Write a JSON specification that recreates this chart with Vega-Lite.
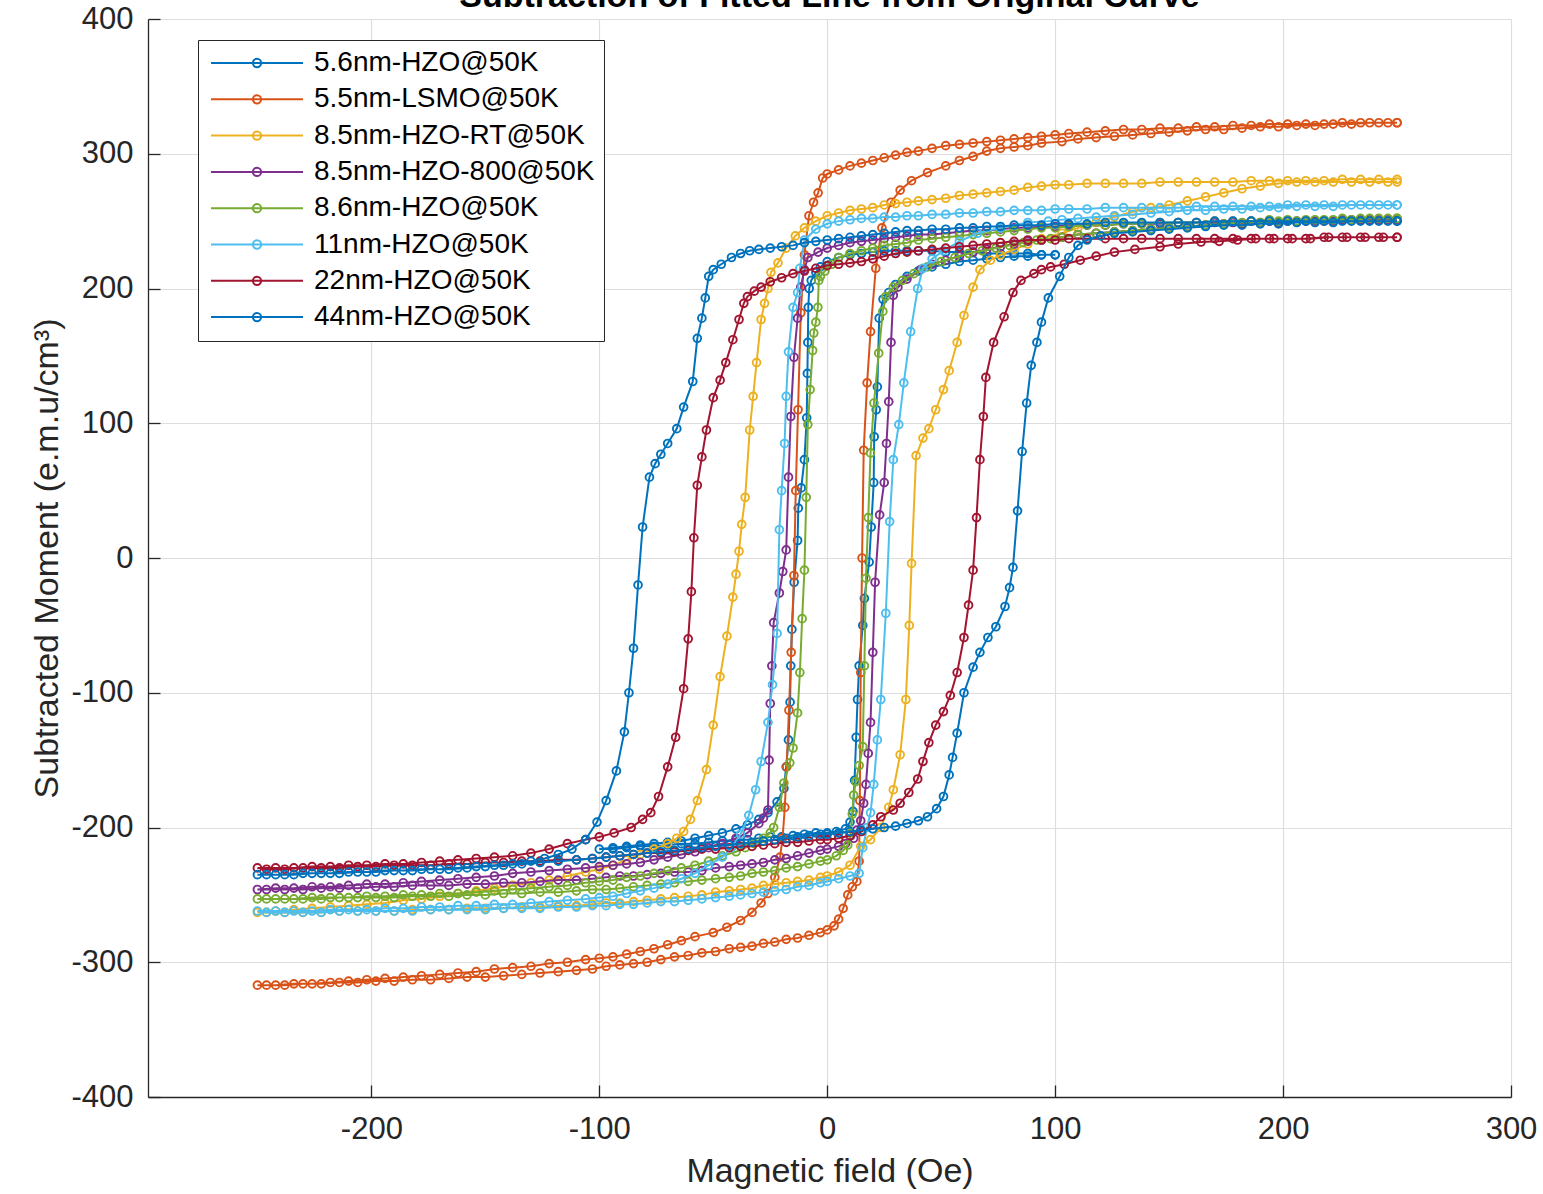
{
"$schema":"https://vega.github.io/schema/vega-lite/v6.json",
"width":1363,"height":1078,
"autosize":{"type":"none"},
"padding":{"left":148,"top":19,"right":32,"bottom":97},
"background":"white",
"title":{"text":"Subtraction of Fitted Line from Original Curve","font":"Liberation Sans","fontSize":34,"fontWeight":"bold","color":"black","anchor":"middle","frame":"group","offset":0,"dy":38,"baseline":"alphabetic"},
"config":{
"view":{"stroke":null},
"axis":{"domainColor":"#262626","domainWidth":1.3,"tickColor":"#262626","tickWidth":1.3,"tickSize":-12,"labelFont":"Liberation Sans","labelFontSize":31,"labelColor":"#262626","titleFont":"Liberation Sans","titleFontSize":34,"titleFontWeight":"normal","titleColor":"#262626","gridColor":"#dedede","gridWidth":1.2,"labelFlush":false,"labelOverlap":false},
"axisX":{"labelPadding":29,"titlePadding":10},
"axisY":{"labelPadding":27,"titlePadding":6}
},
"datasets":{
"s1":[{"x":100,"y":225},{"x":94,"y":225},{"x":88,"y":226},{"x":82,"y":226},{"x":76,"y":226},{"x":70,"y":226},{"x":64,"y":227},{"x":58,"y":227},{"x":52,"y":227},{"x":46,"y":228},{"x":40,"y":228},{"x":35,"y":228},{"x":30,"y":228},{"x":25,"y":228},{"x":20,"y":227},{"x":15,"y":226},{"x":10,"y":225},{"x":5,"y":223},{"x":0,"y":220},{"x":-3,"y":216},{"x":-5,"y":212},{"x":-7,"y":206},{"x":-7.9,"y":200},{"x":-8.3,"y":186},{"x":-8.5,"y":160},{"x":-8.7,"y":137},{"x":-9,"y":104},{"x":-10,"y":73},{"x":-11.4,"y":52},{"x":-12.7,"y":37},{"x":-13,"y":13},{"x":-14.5,"y":-18},{"x":-15.5,"y":-53},{"x":-16,"y":-80},{"x":-16.3,"y":-107},{"x":-17,"y":-135},{"x":-18,"y":-155},{"x":-19,"y":-171},{"x":-22,"y":-181},{"x":-26,"y":-189},{"x":-30,"y":-194},{"x":-35,"y":-198},{"x":-40,"y":-201},{"x":-46,"y":-204},{"x":-52,"y":-206},{"x":-58,"y":-208},{"x":-64,"y":-210},{"x":-70,"y":-211},{"x":-76,"y":-212},{"x":-82,"y":-213},{"x":-88,"y":-214},{"x":-94,"y":-215},{"x":-100,"y":-216},
{"x":-94,"y":-216},{"x":-88,"y":-215},{"x":-82,"y":-214},{"x":-76,"y":-214},{"x":-70,"y":-213},{"x":-64,"y":-212},{"x":-58,"y":-212},{"x":-52,"y":-211},{"x":-46,"y":-210},{"x":-40,"y":-209},{"x":-35,"y":-209},{"x":-30,"y":-208},{"x":-25,"y":-207},{"x":-20,"y":-207},{"x":-15,"y":-206},{"x":-10,"y":-205},{"x":-5,"y":-204},{"x":0,"y":-204},{"x":4,"y":-203},{"x":8,"y":-201},{"x":10,"y":-196},{"x":11.3,"y":-188},{"x":12,"y":-165},{"x":12.7,"y":-133},{"x":13.3,"y":-105},{"x":14,"y":-80},{"x":15.6,"y":-50},{"x":16.3,"y":-30},{"x":18.4,"y":-3},{"x":19.3,"y":23},{"x":20.4,"y":56},{"x":20.6,"y":90},{"x":21.5,"y":110},{"x":22,"y":127},{"x":22.8,"y":178},{"x":24.5,"y":192},{"x":27,"y":197},{"x":30,"y":203},{"x":35,"y":209},{"x":40,"y":213},{"x":46,"y":216},{"x":52,"y":218},{"x":58,"y":220},{"x":64,"y":221},{"x":70,"y":222},{"x":76,"y":223},{"x":82,"y":224},{"x":88,"y":224},{"x":94,"y":225},{"x":100,"y":225}],
"s2":[{"x":250,"y":323},{"x":242,"y":323},{"x":234,"y":323},{"x":226,"y":323},{"x":218,"y":322},{"x":210,"y":322},{"x":202,"y":322},{"x":194,"y":322},{"x":186,"y":321},{"x":178,"y":321},{"x":170,"y":320},{"x":162,"y":320},{"x":154,"y":319},{"x":146,"y":319},{"x":138,"y":318},{"x":130,"y":318},{"x":122,"y":317},{"x":114,"y":316},{"x":106,"y":315},{"x":100,"y":314},{"x":94,"y":313},{"x":88,"y":312},{"x":82,"y":311},{"x":76,"y":310},{"x":70,"y":309},{"x":64,"y":308},{"x":58,"y":307},{"x":52,"y":306},{"x":46,"y":304},{"x":40,"y":302},{"x":35,"y":301},{"x":30,"y":299},{"x":25,"y":297},{"x":20,"y":295},{"x":15,"y":293},{"x":10,"y":291},{"x":5,"y":288},{"x":0,"y":285},{"x":-2,"y":282},{"x":-4,"y":271},{"x":-6,"y":264},{"x":-8,"y":254},{"x":-10,"y":225},{"x":-11.6,"y":182},{"x":-12.8,"y":110},{"x":-13.8,"y":50},{"x":-14.6,"y":-13},{"x":-15.8,"y":-70},{"x":-16.8,"y":-113},{"x":-17.8,"y":-155},{"x":-18.6,"y":-185},{"x":-19.6,"y":-208},{"x":-20.7,"y":-222},{"x":-23,"y":-237},{"x":-26,"y":-249},{"x":-29,"y":-256},{"x":-33,"y":-263},{"x":-38,"y":-269},{"x":-44,"y":-274},{"x":-50,"y":-278},{"x":-58,"y":-281},{"x":-64,"y":-284},{"x":-70,"y":-287},{"x":-76,"y":-290},{"x":-82,"y":-292},{"x":-88,"y":-294},{"x":-94,"y":-296},{"x":-100,"y":-297},{"x":-106,"y":-298},{"x":-114,"y":-300},{"x":-122,"y":-301},{"x":-130,"y":-303},{"x":-138,"y":-304},{"x":-146,"y":-305},{"x":-154,"y":-307},{"x":-162,"y":-308},{"x":-170,"y":-309},{"x":-178,"y":-310},{"x":-186,"y":-311},{"x":-194,"y":-312},{"x":-202,"y":-313},{"x":-210,"y":-314},{"x":-218,"y":-315},{"x":-226,"y":-316},{"x":-234,"y":-316},{"x":-242,"y":-317},{"x":-250,"y":-317},
{"x":-246,"y":-317},{"x":-238,"y":-317},{"x":-230,"y":-316},{"x":-222,"y":-316},{"x":-214,"y":-315},{"x":-206,"y":-315},{"x":-198,"y":-314},{"x":-190,"y":-314},{"x":-182,"y":-313},{"x":-174,"y":-313},{"x":-166,"y":-312},{"x":-158,"y":-311},{"x":-150,"y":-311},{"x":-142,"y":-310},{"x":-134,"y":-309},{"x":-126,"y":-308},{"x":-118,"y":-307},{"x":-110,"y":-306},{"x":-103,"y":-305},{"x":-97,"y":-303},{"x":-91,"y":-302},{"x":-85,"y":-301},{"x":-79,"y":-300},{"x":-73,"y":-298},{"x":-67,"y":-296},{"x":-61,"y":-295},{"x":-55,"y":-293},{"x":-49,"y":-292},{"x":-43,"y":-290},{"x":-38,"y":-289},{"x":-33,"y":-288},{"x":-28,"y":-286},{"x":-23,"y":-285},{"x":-18,"y":-283},{"x":-13,"y":-282},{"x":-8,"y":-280},{"x":-3,"y":-278},{"x":0,"y":-276},{"x":3,"y":-273},{"x":5,"y":-268},{"x":7,"y":-260},{"x":9,"y":-250},{"x":11,"y":-244},{"x":13,"y":-240},{"x":14,"y":-225},{"x":14.3,"y":-180},{"x":14.7,"y":-85},{"x":15.3,"y":0},{"x":16,"y":80},{"x":17.5,"y":130},{"x":19,"y":168},{"x":21.3,"y":215},{"x":24,"y":245},{"x":28,"y":264},{"x":32,"y":273},{"x":37,"y":280},{"x":44,"y":286},{"x":52,"y":291},{"x":58,"y":295},{"x":64,"y":298},{"x":70,"y":302},{"x":76,"y":304},{"x":82,"y":305},{"x":88,"y":306},{"x":94,"y":308},{"x":103,"y":309},{"x":110,"y":311},{"x":118,"y":312},{"x":126,"y":313},{"x":134,"y":314},{"x":142,"y":315},{"x":150,"y":316},{"x":158,"y":317},{"x":166,"y":318},{"x":174,"y":318},{"x":182,"y":319},{"x":190,"y":320},{"x":198,"y":320},{"x":206,"y":321},{"x":214,"y":321},{"x":222,"y":322},{"x":230,"y":322},{"x":238,"y":323},{"x":246,"y":323},{"x":250,"y":323}],
"s3":[{"x":250,"y":281},{"x":242,"y":281},{"x":234,"y":281},{"x":226,"y":281},{"x":218,"y":280},{"x":210,"y":280},{"x":202,"y":280},{"x":194,"y":280},{"x":186,"y":280},{"x":178,"y":279},{"x":170,"y":279},{"x":162,"y":279},{"x":154,"y":279},{"x":146,"y":279},{"x":138,"y":278},{"x":130,"y":278},{"x":122,"y":278},{"x":114,"y":278},{"x":106,"y":277},{"x":100,"y":277},{"x":94,"y":276},{"x":88,"y":275},{"x":82,"y":273},{"x":76,"y":272},{"x":70,"y":271},{"x":64,"y":270},{"x":58,"y":269},{"x":52,"y":267},{"x":46,"y":266},{"x":40,"y":265},{"x":35,"y":264},{"x":30,"y":263},{"x":25,"y":262},{"x":20,"y":260},{"x":15,"y":259},{"x":10,"y":258},{"x":5,"y":256},{"x":0,"y":254},{"x":-5,"y":250},{"x":-10,"y":245},{"x":-14,"y":239},{"x":-18,"y":230},{"x":-21.6,"y":219},{"x":-24.7,"y":212},{"x":-26,"y":200},{"x":-27.5,"y":189},{"x":-29,"y":177},{"x":-31,"y":145},{"x":-32.5,"y":120},{"x":-34,"y":95},{"x":-36,"y":45},{"x":-37.5,"y":25},{"x":-38.7,"y":5},{"x":-40,"y":-12},{"x":-41.4,"y":-29},{"x":-44,"y":-58},{"x":-47,"y":-88},{"x":-50,"y":-124},{"x":-53,"y":-157},{"x":-57,"y":-180},{"x":-60,"y":-194},{"x":-63,"y":-203},{"x":-66,"y":-208},{"x":-70,"y":-212},{"x":-76,"y":-216},{"x":-82,"y":-220},{"x":-88,"y":-224},{"x":-94,"y":-228},{"x":-100,"y":-231},{"x":-106,"y":-233},{"x":-114,"y":-236},{"x":-122,"y":-239},{"x":-130,"y":-241},{"x":-138,"y":-243},{"x":-146,"y":-245},{"x":-154,"y":-247},{"x":-162,"y":-249},{"x":-170,"y":-251},{"x":-178,"y":-253},{"x":-186,"y":-254},{"x":-194,"y":-256},{"x":-202,"y":-257},{"x":-210,"y":-258},{"x":-218,"y":-259},{"x":-226,"y":-260},{"x":-234,"y":-261},{"x":-242,"y":-262},{"x":-250,"y":-263},
{"x":-246,"y":-263},{"x":-238,"y":-263},{"x":-230,"y":-263},{"x":-222,"y":-263},{"x":-214,"y":-262},{"x":-206,"y":-262},{"x":-198,"y":-262},{"x":-190,"y":-262},{"x":-182,"y":-261},{"x":-174,"y":-261},{"x":-166,"y":-261},{"x":-158,"y":-260},{"x":-150,"y":-260},{"x":-142,"y":-260},{"x":-134,"y":-259},{"x":-126,"y":-259},{"x":-118,"y":-258},{"x":-110,"y":-258},{"x":-103,"y":-257},{"x":-97,"y":-256},{"x":-91,"y":-256},{"x":-85,"y":-255},{"x":-79,"y":-254},{"x":-73,"y":-253},{"x":-67,"y":-252},{"x":-61,"y":-251},{"x":-55,"y":-250},{"x":-49,"y":-248},{"x":-43,"y":-247},{"x":-38,"y":-246},{"x":-33,"y":-245},{"x":-28,"y":-243},{"x":-23,"y":-242},{"x":-18,"y":-241},{"x":-13,"y":-240},{"x":-8,"y":-239},{"x":-3,"y":-237},{"x":0,"y":-236},{"x":5,"y":-233},{"x":10,"y":-228},{"x":14.7,"y":-214},{"x":19,"y":-209},{"x":23.5,"y":-200},{"x":27,"y":-185},{"x":29,"y":-172},{"x":32,"y":-146},{"x":34.5,"y":-105},{"x":36,"y":-50},{"x":37,"y":-4},{"x":39,"y":76},{"x":42,"y":89},{"x":44.6,"y":96},{"x":47.6,"y":110},{"x":51,"y":125},{"x":53.5,"y":139},{"x":57,"y":160},{"x":60,"y":180},{"x":64,"y":201},{"x":67,"y":214},{"x":71.6,"y":221},{"x":76,"y":225},{"x":82,"y":229},{"x":88,"y":233},{"x":94,"y":237},{"x":103,"y":241},{"x":110,"y":245},{"x":118,"y":249},{"x":126,"y":253},{"x":134,"y":257},{"x":142,"y":260},{"x":150,"y":262},{"x":158,"y":265},{"x":166,"y":268},{"x":174,"y":271},{"x":182,"y":274},{"x":190,"y":276},{"x":198,"y":278},{"x":206,"y":279},{"x":214,"y":279},{"x":222,"y":279},{"x":230,"y":279},{"x":238,"y":279},{"x":246,"y":279},{"x":250,"y":279}],
"s4":[{"x":250,"y":251},{"x":242,"y":251},{"x":234,"y":251},{"x":226,"y":251},{"x":218,"y":250},{"x":210,"y":250},{"x":202,"y":250},{"x":194,"y":250},{"x":186,"y":250},{"x":178,"y":249},{"x":170,"y":249},{"x":162,"y":249},{"x":154,"y":249},{"x":146,"y":248},{"x":138,"y":248},{"x":130,"y":248},{"x":122,"y":247},{"x":114,"y":247},{"x":106,"y":247},{"x":100,"y":246},{"x":94,"y":246},{"x":88,"y":245},{"x":82,"y":245},{"x":76,"y":244},{"x":70,"y":243},{"x":64,"y":243},{"x":58,"y":242},{"x":52,"y":241},{"x":46,"y":240},{"x":40,"y":240},{"x":35,"y":239},{"x":30,"y":238},{"x":25,"y":237},{"x":20,"y":236},{"x":15,"y":235},{"x":10,"y":234},{"x":5,"y":232},{"x":0,"y":230},{"x":-4,"y":227},{"x":-8.5,"y":223},{"x":-10,"y":214},{"x":-11.6,"y":201},{"x":-13,"y":178},{"x":-14.6,"y":149},{"x":-16,"y":105},{"x":-17,"y":60},{"x":-18,"y":6},{"x":-19.5,"y":-10},{"x":-21,"y":-26},{"x":-23.5,"y":-48},{"x":-24.3,"y":-80},{"x":-25,"y":-108},{"x":-25.5,"y":-150},{"x":-26,"y":-187},{"x":-28,"y":-193},{"x":-30,"y":-197},{"x":-35,"y":-204},{"x":-40,"y":-208},{"x":-46,"y":-212},{"x":-52,"y":-215},{"x":-58,"y":-218},{"x":-64,"y":-220},{"x":-70,"y":-222},{"x":-76,"y":-224},{"x":-82,"y":-226},{"x":-88,"y":-227},{"x":-94,"y":-228},{"x":-100,"y":-229},{"x":-106,"y":-230},{"x":-114,"y":-231},{"x":-122,"y":-232},{"x":-130,"y":-233},{"x":-138,"y":-234},{"x":-146,"y":-236},{"x":-154,"y":-237},{"x":-162,"y":-238},{"x":-170,"y":-239},{"x":-178,"y":-240},{"x":-186,"y":-241},{"x":-194,"y":-242},{"x":-202,"y":-242},{"x":-210,"y":-243},{"x":-218,"y":-244},{"x":-226,"y":-244},{"x":-234,"y":-245},{"x":-242,"y":-245},{"x":-250,"y":-246},
{"x":-246,"y":-246},{"x":-238,"y":-246},{"x":-230,"y":-246},{"x":-222,"y":-245},{"x":-214,"y":-245},{"x":-206,"y":-245},{"x":-198,"y":-244},{"x":-190,"y":-244},{"x":-182,"y":-243},{"x":-174,"y":-243},{"x":-166,"y":-243},{"x":-158,"y":-242},{"x":-150,"y":-242},{"x":-142,"y":-241},{"x":-134,"y":-241},{"x":-126,"y":-240},{"x":-118,"y":-239},{"x":-110,"y":-239},{"x":-103,"y":-238},{"x":-97,"y":-237},{"x":-91,"y":-236},{"x":-85,"y":-236},{"x":-79,"y":-235},{"x":-73,"y":-234},{"x":-67,"y":-233},{"x":-61,"y":-233},{"x":-55,"y":-232},{"x":-49,"y":-230},{"x":-43,"y":-229},{"x":-38,"y":-228},{"x":-33,"y":-227},{"x":-28,"y":-226},{"x":-23,"y":-224},{"x":-18,"y":-223},{"x":-13,"y":-221},{"x":-8,"y":-219},{"x":-3,"y":-217},{"x":0,"y":-216},{"x":5,"y":-214},{"x":8,"y":-212},{"x":11.6,"y":-208},{"x":13,"y":-202},{"x":14.7,"y":-195},{"x":16,"y":-182},{"x":17,"y":-168},{"x":18,"y":-145},{"x":19,"y":-122},{"x":20,"y":-70},{"x":21,"y":-18},{"x":23,"y":32},{"x":25,"y":56},{"x":26,"y":85},{"x":27,"y":116},{"x":28,"y":160},{"x":29,"y":195},{"x":31,"y":201},{"x":35,"y":207},{"x":41,"y":214},{"x":46,"y":218},{"x":52,"y":221},{"x":58,"y":224},{"x":64,"y":227},{"x":70,"y":229},{"x":76,"y":231},{"x":82,"y":233},{"x":88,"y":235},{"x":94,"y":236},{"x":103,"y":238},{"x":110,"y":240},{"x":118,"y":241},{"x":126,"y":242},{"x":134,"y":243},{"x":142,"y":244},{"x":150,"y":245},{"x":158,"y":246},{"x":166,"y":247},{"x":174,"y":248},{"x":182,"y":248},{"x":190,"y":249},{"x":198,"y":249},{"x":206,"y":250},{"x":214,"y":250},{"x":222,"y":250},{"x":230,"y":251},{"x":238,"y":251},{"x":246,"y":251},{"x":250,"y":251}],
"s5":[{"x":250,"y":252},{"x":242,"y":252},{"x":234,"y":252},{"x":226,"y":252},{"x":218,"y":251},{"x":210,"y":251},{"x":202,"y":251},{"x":194,"y":251},{"x":186,"y":250},{"x":178,"y":250},{"x":170,"y":250},{"x":162,"y":249},{"x":154,"y":249},{"x":146,"y":249},{"x":138,"y":248},{"x":130,"y":248},{"x":122,"y":247},{"x":114,"y":247},{"x":106,"y":246},{"x":100,"y":245},{"x":94,"y":245},{"x":88,"y":244},{"x":82,"y":243},{"x":76,"y":242},{"x":70,"y":241},{"x":64,"y":240},{"x":58,"y":239},{"x":52,"y":238},{"x":46,"y":237},{"x":40,"y":236},{"x":35,"y":234},{"x":30,"y":233},{"x":25,"y":232},{"x":20,"y":230},{"x":15,"y":228},{"x":10,"y":226},{"x":5,"y":223},{"x":2,"y":218},{"x":-1,"y":213},{"x":-3,"y":209},{"x":-3.7,"y":206},{"x":-4.1,"y":186},{"x":-5,"y":175},{"x":-5.9,"y":167},{"x":-6.4,"y":154},{"x":-7.5,"y":125},{"x":-8.5,"y":99},{"x":-9.2,"y":45},{"x":-10,"y":-9},{"x":-11,"y":-45},{"x":-12,"y":-85},{"x":-13,"y":-115},{"x":-15,"y":-141},{"x":-16.4,"y":-152},{"x":-19,"y":-167},{"x":-21,"y":-185},{"x":-23.5,"y":-200},{"x":-25,"y":-204},{"x":-28,"y":-208},{"x":-32,"y":-212},{"x":-36,"y":-215},{"x":-40,"y":-218},{"x":-46,"y":-221},{"x":-52,"y":-225},{"x":-58,"y":-228},{"x":-64,"y":-230},{"x":-70,"y":-232},{"x":-76,"y":-234},{"x":-82,"y":-236},{"x":-88,"y":-237},{"x":-94,"y":-239},{"x":-100,"y":-240},{"x":-106,"y":-241},{"x":-114,"y":-243},{"x":-122,"y":-244},{"x":-130,"y":-245},{"x":-138,"y":-246},{"x":-146,"y":-247},{"x":-154,"y":-248},{"x":-162,"y":-249},{"x":-170,"y":-249},{"x":-178,"y":-250},{"x":-186,"y":-250},{"x":-194,"y":-251},{"x":-202,"y":-251},{"x":-210,"y":-252},{"x":-218,"y":-252},{"x":-226,"y":-252},{"x":-234,"y":-253},{"x":-242,"y":-253},{"x":-250,"y":-253},
{"x":-246,"y":-253},{"x":-238,"y":-253},{"x":-230,"y":-253},{"x":-222,"y":-253},{"x":-214,"y":-252},{"x":-206,"y":-252},{"x":-198,"y":-252},{"x":-190,"y":-252},{"x":-182,"y":-251},{"x":-174,"y":-251},{"x":-166,"y":-251},{"x":-158,"y":-250},{"x":-150,"y":-250},{"x":-142,"y":-249},{"x":-134,"y":-249},{"x":-126,"y":-248},{"x":-118,"y":-248},{"x":-110,"y":-247},{"x":-103,"y":-246},{"x":-97,"y":-246},{"x":-91,"y":-245},{"x":-85,"y":-244},{"x":-79,"y":-243},{"x":-73,"y":-242},{"x":-67,"y":-241},{"x":-61,"y":-240},{"x":-55,"y":-239},{"x":-49,"y":-238},{"x":-43,"y":-237},{"x":-38,"y":-236},{"x":-33,"y":-234},{"x":-28,"y":-233},{"x":-23,"y":-232},{"x":-18,"y":-230},{"x":-13,"y":-229},{"x":-8,"y":-227},{"x":-3,"y":-225},{"x":0,"y":-224},{"x":4,"y":-221},{"x":7,"y":-217},{"x":9,"y":-213},{"x":10.3,"y":-204},{"x":11,"y":-190},{"x":11.6,"y":-176},{"x":12.5,"y":-166},{"x":14,"y":-154},{"x":15.6,"y":-140},{"x":16.3,"y":-80},{"x":17,"y":-15},{"x":18,"y":30},{"x":19,"y":78},{"x":20.5,"y":115},{"x":22.6,"y":152},{"x":24.4,"y":183},{"x":25.7,"y":194},{"x":29,"y":201},{"x":33,"y":206},{"x":38,"y":211},{"x":44,"y":216},{"x":50,"y":220},{"x":56,"y":223},{"x":62,"y":226},{"x":68,"y":228},{"x":74,"y":230},{"x":80,"y":232},{"x":86,"y":234},{"x":92,"y":236},{"x":98,"y":237},{"x":103,"y":238},{"x":110,"y":240},{"x":118,"y":241},{"x":126,"y":242},{"x":134,"y":243},{"x":142,"y":244},{"x":150,"y":245},{"x":158,"y":246},{"x":166,"y":247},{"x":174,"y":248},{"x":182,"y":249},{"x":190,"y":249},{"x":198,"y":250},{"x":206,"y":250},{"x":214,"y":251},{"x":222,"y":251},{"x":230,"y":251},{"x":238,"y":252},{"x":246,"y":252},{"x":250,"y":252}],
"s6":[{"x":250,"y":262},{"x":242,"y":262},{"x":234,"y":262},{"x":226,"y":262},{"x":218,"y":262},{"x":210,"y":262},{"x":202,"y":262},{"x":194,"y":261},{"x":186,"y":261},{"x":178,"y":261},{"x":170,"y":261},{"x":162,"y":261},{"x":154,"y":260},{"x":146,"y":260},{"x":138,"y":260},{"x":130,"y":260},{"x":122,"y":260},{"x":114,"y":259},{"x":106,"y":259},{"x":100,"y":259},{"x":94,"y":258},{"x":88,"y":258},{"x":82,"y":258},{"x":76,"y":257},{"x":70,"y":257},{"x":64,"y":256},{"x":58,"y":256},{"x":52,"y":255},{"x":46,"y":255},{"x":40,"y":254},{"x":35,"y":254},{"x":30,"y":253},{"x":25,"y":253},{"x":20,"y":252},{"x":15,"y":252},{"x":10,"y":251},{"x":5,"y":250},{"x":0,"y":248},{"x":-5,"y":244},{"x":-10,"y":236},{"x":-12,"y":215},{"x":-13,"y":197},{"x":-15,"y":186},{"x":-17,"y":153},{"x":-18,"y":120},{"x":-18.7,"y":85},{"x":-20,"y":50},{"x":-21,"y":21},{"x":-22,"y":-56},{"x":-24,"y":-94},{"x":-26,"y":-122},{"x":-29,"y":-151},{"x":-31.4,"y":-172},{"x":-34.4,"y":-191},{"x":-38,"y":-205},{"x":-42,"y":-215},{"x":-46,"y":-222},{"x":-52,"y":-228},{"x":-58,"y":-234},{"x":-64,"y":-238},{"x":-70,"y":-242},{"x":-76,"y":-245},{"x":-82,"y":-247},{"x":-88,"y":-249},{"x":-94,"y":-251},{"x":-100,"y":-252},{"x":-106,"y":-253},{"x":-114,"y":-254},{"x":-122,"y":-255},{"x":-130,"y":-256},{"x":-138,"y":-257},{"x":-146,"y":-257},{"x":-154,"y":-258},{"x":-162,"y":-258},{"x":-170,"y":-259},{"x":-178,"y":-259},{"x":-186,"y":-260},{"x":-194,"y":-260},{"x":-202,"y":-261},{"x":-210,"y":-261},{"x":-218,"y":-261},{"x":-226,"y":-262},{"x":-234,"y":-262},{"x":-242,"y":-262},{"x":-250,"y":-262},
{"x":-246,"y":-263},{"x":-238,"y":-263},{"x":-230,"y":-263},{"x":-222,"y":-263},{"x":-214,"y":-262},{"x":-206,"y":-262},{"x":-198,"y":-262},{"x":-190,"y":-262},{"x":-182,"y":-262},{"x":-174,"y":-261},{"x":-166,"y":-261},{"x":-158,"y":-261},{"x":-150,"y":-261},{"x":-142,"y":-260},{"x":-134,"y":-260},{"x":-126,"y":-260},{"x":-118,"y":-259},{"x":-110,"y":-259},{"x":-103,"y":-258},{"x":-97,"y":-258},{"x":-91,"y":-257},{"x":-85,"y":-257},{"x":-79,"y":-256},{"x":-73,"y":-255},{"x":-67,"y":-255},{"x":-61,"y":-254},{"x":-55,"y":-253},{"x":-49,"y":-252},{"x":-43,"y":-251},{"x":-38,"y":-250},{"x":-33,"y":-249},{"x":-28,"y":-248},{"x":-23,"y":-247},{"x":-18,"y":-246},{"x":-13,"y":-244},{"x":-8,"y":-243},{"x":-3,"y":-241},{"x":0,"y":-240},{"x":5,"y":-238},{"x":10,"y":-236},{"x":14,"y":-234},{"x":15.6,"y":-215},{"x":17.5,"y":-200},{"x":19,"y":-189},{"x":20.4,"y":-168},{"x":22,"y":-135},{"x":23.5,"y":-105},{"x":25.7,"y":-41},{"x":27.4,"y":27},{"x":29,"y":73},{"x":31.4,"y":99},{"x":33.6,"y":130},{"x":36.6,"y":168},{"x":39.7,"y":200},{"x":42,"y":215},{"x":46,"y":222},{"x":51,"y":228},{"x":58,"y":235},{"x":66,"y":241},{"x":76,"y":245},{"x":88,"y":249},{"x":97,"y":250},{"x":103,"y":251},{"x":110,"y":252},{"x":118,"y":253},{"x":126,"y":254},{"x":134,"y":255},{"x":142,"y":256},{"x":150,"y":257},{"x":158,"y":258},{"x":166,"y":258},{"x":174,"y":259},{"x":182,"y":259},{"x":190,"y":260},{"x":198,"y":260},{"x":206,"y":261},{"x":214,"y":261},{"x":222,"y":261},{"x":230,"y":262},{"x":238,"y":262},{"x":246,"y":262},{"x":250,"y":262}],
"s7":[{"x":250,"y":238},{"x":242,"y":238},{"x":234,"y":238},{"x":226,"y":238},{"x":218,"y":238},{"x":210,"y":237},{"x":202,"y":237},{"x":194,"y":237},{"x":186,"y":237},{"x":178,"y":237},{"x":170,"y":237},{"x":162,"y":237},{"x":154,"y":237},{"x":146,"y":237},{"x":138,"y":237},{"x":130,"y":237},{"x":122,"y":237},{"x":114,"y":237},{"x":106,"y":237},{"x":100,"y":236},{"x":94,"y":236},{"x":88,"y":236},{"x":82,"y":235},{"x":76,"y":234},{"x":70,"y":233},{"x":64,"y":232},{"x":58,"y":231},{"x":52,"y":230},{"x":46,"y":229},{"x":40,"y":228},{"x":35,"y":227},{"x":30,"y":226},{"x":25,"y":224},{"x":20,"y":222},{"x":15,"y":220},{"x":10,"y":219},{"x":5,"y":218},{"x":0,"y":217},{"x":-5,"y":215},{"x":-10,"y":213},{"x":-15,"y":211},{"x":-20,"y":208},{"x":-25,"y":205},{"x":-29,"y":201},{"x":-32,"y":198},{"x":-35,"y":194},{"x":-36.6,"y":189},{"x":-38.7,"y":177},{"x":-41.4,"y":162},{"x":-44.5,"y":145},{"x":-47,"y":132},{"x":-50,"y":119},{"x":-53,"y":95},{"x":-55,"y":75},{"x":-57,"y":54},{"x":-58.5,"y":15},{"x":-59.6,"y":-25},{"x":-61,"y":-60},{"x":-63,"y":-97},{"x":-66.5,"y":-133},{"x":-70,"y":-155},{"x":-74,"y":-177},{"x":-77.4,"y":-189},{"x":-81,"y":-194},{"x":-86,"y":-200},{"x":-93.5,"y":-204},{"x":-100,"y":-207},{"x":-106,"y":-209},{"x":-114,"y":-212},{"x":-122,"y":-216},{"x":-130,"y":-219},{"x":-138,"y":-221},{"x":-146,"y":-222},{"x":-154,"y":-223},{"x":-162,"y":-224},{"x":-170,"y":-225},{"x":-178,"y":-226},{"x":-186,"y":-227},{"x":-194,"y":-227},{"x":-202,"y":-228},{"x":-210,"y":-228},{"x":-218,"y":-229},{"x":-226,"y":-229},{"x":-234,"y":-230},{"x":-242,"y":-230},{"x":-250,"y":-230},
{"x":-246,"y":-231},{"x":-238,"y":-231},{"x":-230,"y":-230},{"x":-222,"y":-230},{"x":-214,"y":-230},{"x":-206,"y":-229},{"x":-198,"y":-229},{"x":-190,"y":-228},{"x":-182,"y":-228},{"x":-174,"y":-228},{"x":-166,"y":-227},{"x":-158,"y":-227},{"x":-150,"y":-226},{"x":-142,"y":-226},{"x":-134,"y":-225},{"x":-126,"y":-225},{"x":-118,"y":-224},{"x":-110,"y":-224},{"x":-103,"y":-223},{"x":-97,"y":-222},{"x":-91,"y":-221},{"x":-85,"y":-220},{"x":-79,"y":-219},{"x":-73,"y":-219},{"x":-67,"y":-218},{"x":-61,"y":-217},{"x":-55,"y":-216},{"x":-49,"y":-216},{"x":-43,"y":-215},{"x":-38,"y":-214},{"x":-33,"y":-214},{"x":-28,"y":-213},{"x":-23,"y":-212},{"x":-18,"y":-211},{"x":-13,"y":-211},{"x":-8,"y":-210},{"x":-3,"y":-209},{"x":0,"y":-209},{"x":5,"y":-208},{"x":10,"y":-206},{"x":15,"y":-203},{"x":20,"y":-198},{"x":23.5,"y":-192},{"x":29,"y":-187},{"x":32,"y":-182},{"x":35.8,"y":-174},{"x":39.7,"y":-164},{"x":42,"y":-151},{"x":44.6,"y":-137},{"x":47.6,"y":-124},{"x":51,"y":-114},{"x":54,"y":-102},{"x":57,"y":-85},{"x":60,"y":-59},{"x":62,"y":-35},{"x":64,"y":-9},{"x":65.5,"y":30},{"x":67,"y":73},{"x":68.5,"y":105},{"x":69.6,"y":134},{"x":73,"y":160},{"x":77.6,"y":179},{"x":81.5,"y":197},{"x":85,"y":206},{"x":90.7,"y":211},{"x":94,"y":214},{"x":98,"y":216},{"x":104,"y":218},{"x":111,"y":221},{"x":118,"y":224},{"x":126,"y":227},{"x":135,"y":229},{"x":146,"y":231},{"x":154,"y":233},{"x":164,"y":234.5},{"x":172,"y":235},{"x":180,"y":236},{"x":188,"y":237},{"x":196,"y":237},{"x":204,"y":237},{"x":212,"y":237},{"x":220,"y":238},{"x":228,"y":238},{"x":236,"y":238},{"x":244,"y":238},{"x":250,"y":238}],
"s8":[{"x":250,"y":250},{"x":242,"y":250},{"x":234,"y":250},{"x":226,"y":250},{"x":218,"y":250},{"x":210,"y":250},{"x":202,"y":250},{"x":194,"y":250},{"x":186,"y":250},{"x":178,"y":250},{"x":170,"y":250},{"x":162,"y":249},{"x":154,"y":249},{"x":146,"y":249},{"x":138,"y":249},{"x":130,"y":249},{"x":122,"y":249},{"x":114,"y":248},{"x":106,"y":248},{"x":100,"y":248},{"x":94,"y":247},{"x":88,"y":247},{"x":82,"y":247},{"x":76,"y":246},{"x":70,"y":246},{"x":64,"y":245},{"x":58,"y":245},{"x":52,"y":244},{"x":46,"y":244},{"x":40,"y":243},{"x":35,"y":243},{"x":30,"y":242},{"x":25,"y":241},{"x":20,"y":240},{"x":15,"y":239},{"x":10,"y":238},{"x":5,"y":237},{"x":0,"y":236},{"x":-5,"y":235},{"x":-10,"y":234},{"x":-15,"y":232},{"x":-20,"y":231},{"x":-25,"y":230},{"x":-30,"y":229},{"x":-34,"y":228},{"x":-38,"y":226},{"x":-42,"y":223},{"x":-46.5,"y":218},{"x":-50,"y":214},{"x":-52,"y":209},{"x":-53.5,"y":193},{"x":-55,"y":178},{"x":-57,"y":163},{"x":-59,"y":131},{"x":-63,"y":112},{"x":-66,"y":96},{"x":-70,"y":85},{"x":-73,"y":77},{"x":-75.5,"y":70},{"x":-78,"y":60},{"x":-81,"y":23},{"x":-83,"y":-20},{"x":-85,"y":-67},{"x":-87,"y":-100},{"x":-89,"y":-129},{"x":-92.5,"y":-158},{"x":-97,"y":-180},{"x":-101,"y":-196},{"x":-106,"y":-209},{"x":-112,"y":-216},{"x":-118,"y":-220},{"x":-124,"y":-223},{"x":-130,"y":-225},{"x":-138,"y":-227},{"x":-146,"y":-228},{"x":-154,"y":-229},{"x":-162,"y":-230},{"x":-170,"y":-231},{"x":-178,"y":-231},{"x":-186,"y":-232},{"x":-194,"y":-232},{"x":-202,"y":-233},{"x":-210,"y":-233},{"x":-218,"y":-234},{"x":-226,"y":-234},{"x":-234,"y":-235},{"x":-242,"y":-235},{"x":-250,"y":-235},
{"x":-246,"y":-235},{"x":-238,"y":-235},{"x":-230,"y":-234},{"x":-222,"y":-234},{"x":-214,"y":-234},{"x":-206,"y":-233},{"x":-198,"y":-233},{"x":-190,"y":-232},{"x":-182,"y":-232},{"x":-174,"y":-231},{"x":-166,"y":-231},{"x":-158,"y":-230},{"x":-150,"y":-229},{"x":-142,"y":-228},{"x":-134,"y":-227},{"x":-126,"y":-226},{"x":-118,"y":-225},{"x":-110,"y":-224},{"x":-103,"y":-223},{"x":-97,"y":-222},{"x":-91,"y":-221},{"x":-85,"y":-220},{"x":-79,"y":-219},{"x":-73,"y":-218},{"x":-67,"y":-217},{"x":-61,"y":-216},{"x":-55,"y":-215},{"x":-49,"y":-214},{"x":-43,"y":-213},{"x":-38,"y":-212},{"x":-33,"y":-211},{"x":-28,"y":-210},{"x":-23,"y":-209},{"x":-18,"y":-208},{"x":-13,"y":-207},{"x":-8,"y":-206},{"x":-3,"y":-205},{"x":0,"y":-205},{"x":5,"y":-204},{"x":10,"y":-203},{"x":15,"y":-202},{"x":20,"y":-201},{"x":25,"y":-200},{"x":30,"y":-199},{"x":35,"y":-197},{"x":40,"y":-195},{"x":44,"y":-192},{"x":48,"y":-186},{"x":51,"y":-177},{"x":53.5,"y":-161},{"x":55,"y":-148},{"x":57,"y":-130},{"x":60,"y":-100},{"x":64,"y":-81},{"x":67,"y":-70},{"x":70.5,"y":-59},{"x":74,"y":-51},{"x":78,"y":-36},{"x":80,"y":-22},{"x":81.5,"y":-7},{"x":83.5,"y":35},{"x":85.5,"y":79},{"x":87.5,"y":115},{"x":89.5,"y":143},{"x":92,"y":160},{"x":94,"y":175},{"x":97,"y":193},{"x":102,"y":209},{"x":106,"y":223},{"x":110,"y":232},{"x":114,"y":236},{"x":120,"y":239},{"x":126,"y":241},{"x":134,"y":242},{"x":142,"y":243},{"x":150,"y":244},{"x":158,"y":245},{"x":166,"y":246},{"x":174,"y":247},{"x":182,"y":247},{"x":190,"y":248},{"x":198,"y":248},{"x":206,"y":249},{"x":214,"y":249},{"x":222,"y":249},{"x":230,"y":250},{"x":238,"y":250},{"x":246,"y":250},{"x":250,"y":250}]
},
"encoding":{
"x":{"field":"x","type":"quantitative","scale":{"domain":[-298,300],"nice":false,"zero":false},"axis":{"values":[-200,-100,0,100,200,300],"title":"Magnetic field (Oe)","labelExpr":"''+datum.value"}},
"y":{"field":"y","type":"quantitative","scale":{"domain":[-400,400],"nice":false,"zero":false},"axis":{"values":[-400,-300,-200,-100,0,100,200,300,400],"title":"Subtracted Moment (e.m.u/cm³)","labelExpr":"''+datum.value"}},
"order":{"value":null}
},
"layer":[
{"data":{"name":"s1"},"mark":{"type":"line","strokeWidth":2,"point":{"filled":false,"size":60,"strokeWidth":1.9}},"encoding":{"color":{"datum":"5.6nm-HZO@50K","type":"nominal","scale":{"domain":["5.6nm-HZO@50K","5.5nm-LSMO@50K","8.5nm-HZO-RT@50K","8.5nm-HZO-800@50K","8.6nm-HZO@50K","11nm-HZO@50K","22nm-HZO@50K","44nm-HZO@50K"],"range":["#0072BD","#D95319","#EDB120","#7E2F8E","#77AC30","#4DBEEE","#A2142F","#0072BD"]},"legend":{"title":null,"orient":"none","direction":"vertical","legendX":50,"legendY":21,"symbolType":"M-1,0H1M0.09,0A0.09,0.09,0,1,1,-0.09,0A0.09,0.09,0,1,1,0.09,0","symbolSize":8464,"symbolStrokeWidth":2,"symbolFillColor":"transparent","clipHeight":28,"labelFont":"Liberation Sans","labelFontSize":28,"labelColor":"black","labelOffset":10,"symbolOffset":3,"padding":9,"rowPadding":8.3,"labelLimit":0,"strokeColor":"#262626","fillColor":"white"}}}},
{"data":{"name":"s2"},"mark":{"type":"line","strokeWidth":2,"point":{"filled":false,"size":60,"strokeWidth":1.9}},"encoding":{"color":{"datum":"5.5nm-LSMO@50K","type":"nominal"}}},
{"data":{"name":"s3"},"mark":{"type":"line","strokeWidth":2,"point":{"filled":false,"size":60,"strokeWidth":1.9}},"encoding":{"color":{"datum":"8.5nm-HZO-RT@50K","type":"nominal"}}},
{"data":{"name":"s4"},"mark":{"type":"line","strokeWidth":2,"point":{"filled":false,"size":60,"strokeWidth":1.9}},"encoding":{"color":{"datum":"8.5nm-HZO-800@50K","type":"nominal"}}},
{"data":{"name":"s5"},"mark":{"type":"line","strokeWidth":2,"point":{"filled":false,"size":60,"strokeWidth":1.9}},"encoding":{"color":{"datum":"8.6nm-HZO@50K","type":"nominal"}}},
{"data":{"name":"s6"},"mark":{"type":"line","strokeWidth":2,"point":{"filled":false,"size":60,"strokeWidth":1.9}},"encoding":{"color":{"datum":"11nm-HZO@50K","type":"nominal"}}},
{"data":{"name":"s7"},"mark":{"type":"line","strokeWidth":2,"point":{"filled":false,"size":60,"strokeWidth":1.9}},"encoding":{"color":{"datum":"22nm-HZO@50K","type":"nominal"}}},
{"data":{"name":"s8"},"mark":{"type":"line","strokeWidth":2,"point":{"filled":false,"size":60,"strokeWidth":1.9}},"encoding":{"color":{"datum":"44nm-HZO@50K","type":"nominal"}}}
]
}
